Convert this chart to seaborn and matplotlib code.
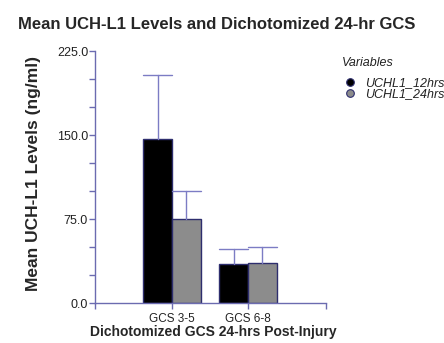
import matplotlib
matplotlib.use("Agg")
import matplotlib.pyplot as plt
from matplotlib.lines import Line2D
from matplotlib.ticker import MultipleLocator, FixedLocator, FormatStrFormatter
import seaborn as sns
import pandas as pd

# Group means and upper error (SEM) for each GCS group
categories = ["GCS 3-5", "GCS 6-8"]
series = ["UCHL1_12hrs", "UCHL1_24hrs"]
means_12hrs = [146.0, 34.5]
means_24hrs = [75.0, 36.0]
err_12hrs = [58.0, 13.5]
err_24hrs = [25.0, 14.0]

sns.set_theme(style="white")
plt.rcParams["font.family"] = ["Liberation Sans", "DejaVu Sans"]

axis_col = "#6b6bb0"
err_col = "#7c7cc4"
edge_col = "#2e2e6e"
bar_colors = ["#000000", "#8c8c8c"]

df = pd.DataFrame({
    "group": categories * 2,
    "variable": [series[0]] * 2 + [series[1]] * 2,
    "mean": means_12hrs + means_24hrs,
})
errors = [err_12hrs, err_24hrs]

fig = plt.figure(figsize=(4.44, 3.43), dpi=100)
ax = fig.add_axes([0.214, 0.1166, 0.520, 0.7347])

sns.barplot(data=df, x="group", y="mean", hue="variable", order=categories,
            hue_order=series, palette=bar_colors, errorbar=None, width=0.76,
            gap=0, edgecolor=edge_col, linewidth=1.0, legend=False, ax=ax)

# One-sided error bars with caps spanning the bar width
for cont, errs in zip(ax.containers, errors):
    for bar, e in zip(cont, errs):
        xc = bar.get_x() + bar.get_width() / 2
        top = bar.get_height()
        ax.plot([xc, xc], [top, top + e], color=err_col, lw=1.0, zorder=1)
        ax.plot([bar.get_x(), bar.get_x() + bar.get_width()], [top + e, top + e],
                color=err_col, lw=1.0, zorder=1)

ax.set_xlim(-1.013, 2.026)
ax.set_ylim(0, 225)
ax.yaxis.set_major_locator(MultipleLocator(75))
ax.yaxis.set_minor_locator(MultipleLocator(25))
ax.yaxis.set_major_formatter(FormatStrFormatter("%.1f"))
ax.xaxis.set_minor_locator(FixedLocator([-1.013, 2.026]))

sns.despine(ax=ax)
for s in ("left", "bottom"):
    ax.spines[s].set_color(axis_col)
    ax.spines[s].set_linewidth(1.0)

ax.tick_params(axis="both", which="both", direction="out", color=axis_col,
               length=4, width=1.0, labelcolor="#222222", pad=1)
ax.tick_params(axis="y", which="both", left=True, labelsize=9)
ax.tick_params(axis="x", which="both", bottom=True, labelsize=8.5, pad=3)

ax.set_xlabel("Dichotomized GCS 24-hrs Post-Injury", fontsize=10,
              fontweight="bold")
ax.xaxis.set_label_coords(0.513, -0.088)
ax.set_ylabel("Mean UCH-L1 Levels (ng/ml)", fontsize=12.5, fontweight="bold")
ax.yaxis.set_label_coords(-0.235, 0.514)

fig.text(0.487, 0.930, "Mean UCH-L1 Levels and Dichotomized 24-hr GCS",
         ha="center", va="center", fontsize=12, fontweight="bold")

# Legend: heading plus one round marker per series
fig.text(0.770, 0.816, "Variables", ha="left", va="center", fontsize=9,
         fontstyle="italic", color="#222222")
handles = [Line2D([], [], marker="o", ls="none", markersize=5.5,
                  markerfacecolor=c, markeredgecolor=edge_col, markeredgewidth=0.8)
           for c in bar_colors]
leg = fig.legend(handles, series, loc="upper left",
                 bbox_to_anchor=(0.775, 0.774), frameon=False,
                 prop={"style": "italic", "size": 9}, handletextpad=0.68,
                 labelspacing=-0.12, handlelength=1.0, borderaxespad=0,
                 borderpad=0)
for t in leg.get_texts():
    t.set_color("#222222")

fig.savefig("out.png", dpi=100)
